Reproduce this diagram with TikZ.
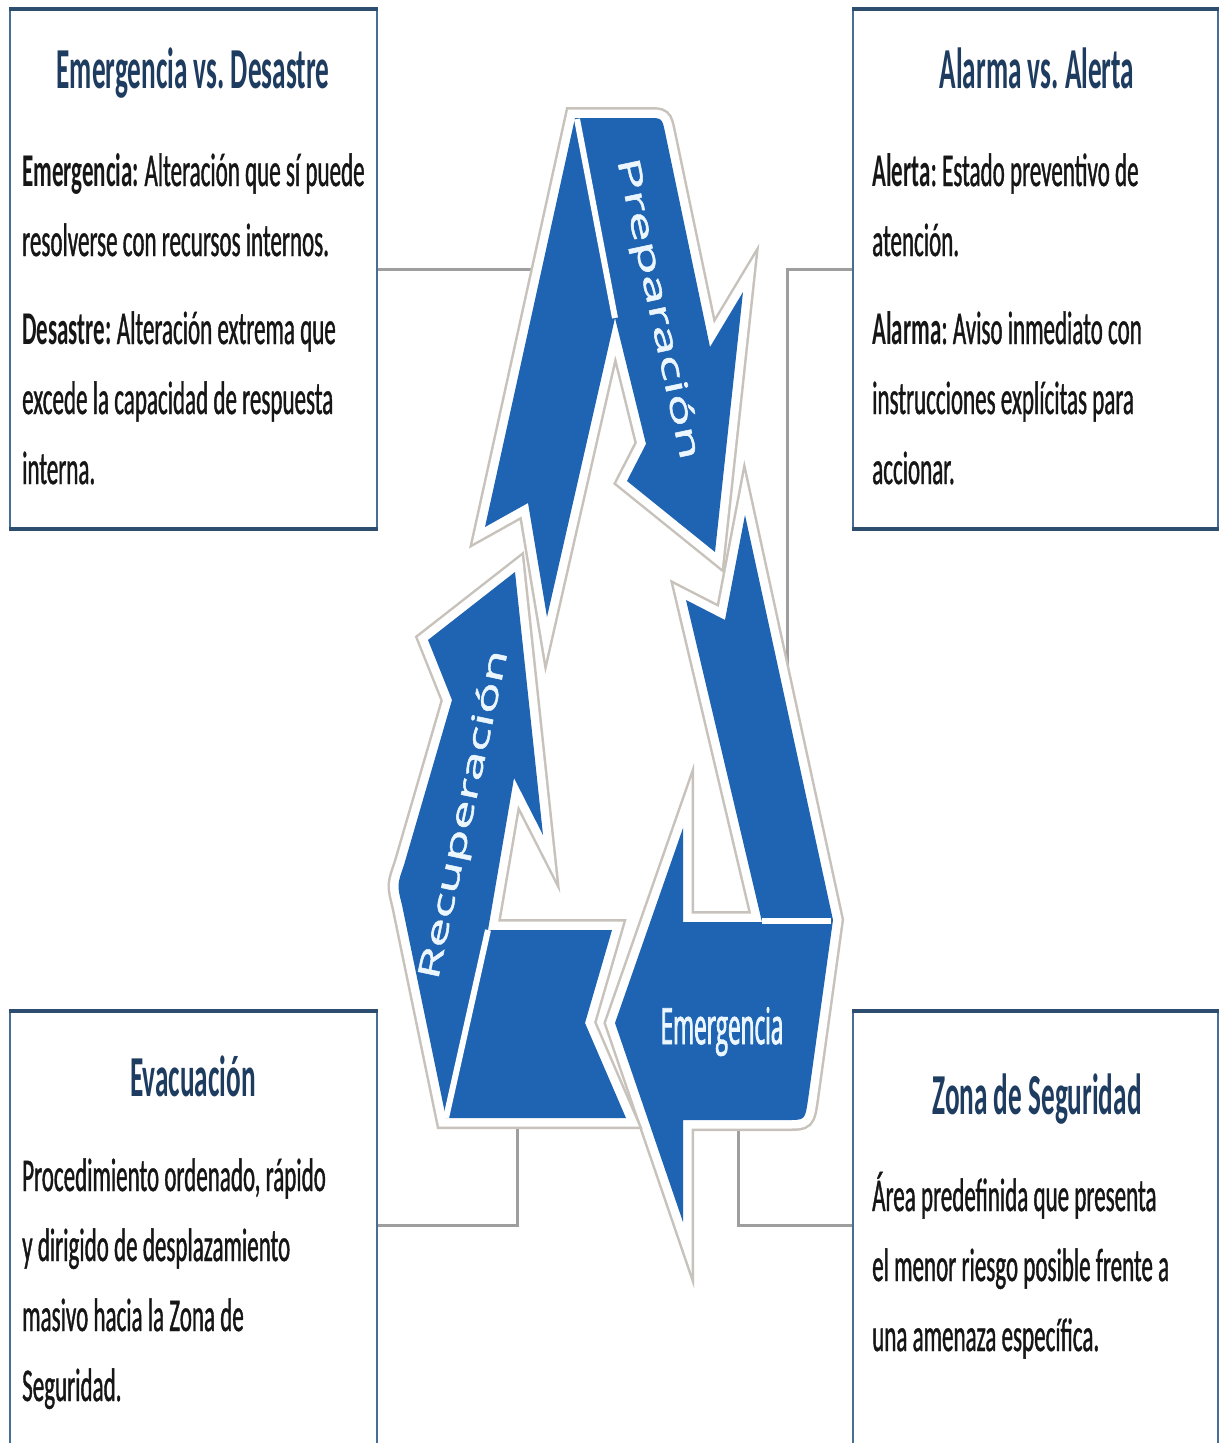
\documentclass[tikz,border=0pt]{standalone}
\usepackage{fontspec}
\setmainfont{Carlito}
\newfontfamily\bodyfont[FakeStretch=0.49, UprightFeatures={FakeBold=0.8}]{Carlito}
\newfontfamily\titlefont[FakeStretch=0.47]{Carlito}
\newfontfamily\labfont[FakeStretch=1.8, FakeBold=1.8]{Open Sans}
\newfontfamily\labfontH[FakeStretch=0.45, FakeBold=1.6]{Open Sans}
\frenchspacing
\definecolor{arrowblue}{RGB}{31,100,178}
\definecolor{ringgray}{RGB}{200,194,188}
\definecolor{conngray}{RGB}{158,158,158}
\definecolor{boxedge}{RGB}{70,110,150}
\definecolor{boxedgedark}{RGB}{45,78,110}
\definecolor{titleblue}{RGB}{30,60,96}
\definecolor{bodytext}{RGB}{22,22,22}
\definecolor{labwhite}{RGB}{236,246,255}
\begin{document}
\begin{tikzpicture}[x=1pt,y=-1pt,
  infobox/.style={draw=boxedge, line width=2.2pt, fill=white, inner sep=0pt},
  boxrule/.style={draw=boxedgedark, line width=4pt},
  connector/.style={draw=conngray, line width=3pt},
  arrowpiece/.style={fill=arrowblue,
     preaction={draw=ringgray, line width=22pt, line join=miter, miter limit=10},
     preaction={draw=white, line width=17pt, line join=miter, miter limit=10}},
  foldline/.style={draw=white, line width=6pt},
  boxtitle/.style={font=\titlefont\bfseries\fontsize{58}{60}\selectfont, text=titleblue, anchor=base, inner sep=0pt},
  boxbody/.style={font=\bodyfont\fontsize{47}{50}\selectfont, text=bodytext, anchor=base west, inner sep=0pt},
  arrowlab/.style={text=labwhite, inner sep=0pt}
]
\fill[white] (0,0) rectangle (1220,1443);
\useasboundingbox (0,0) rectangle (1220,1443);

% boxes
\node[infobox, minimum width=367pt, minimum height=518pt] (b1) at (193.5,269) {};
\node[infobox, minimum width=365pt, minimum height=518pt] (b2) at (1035.5,269) {};
\node[infobox, minimum width=367pt, minimum height=438pt] (b3) at (193.5,1231) {};
\node[infobox, minimum width=365pt, minimum height=438pt] (b4) at (1035.5,1231) {};
\draw[boxrule] (b1.north west) -- (b1.north east);
\draw[boxrule] (b1.south west) -- (b1.south east);
\draw[boxrule] (b2.north west) -- (b2.north east);
\draw[boxrule] (b2.south west) -- (b2.south east);
\draw[boxrule] (b3.north west) -- (b3.north east);
\draw[boxrule] (b4.north west) -- (b4.north east);

% connectors
\coordinate (c1) at (545,269);
\draw[connector] (b1.east) -- (c1);
\coordinate (c2a) at (787,269);
\coordinate (c2b) at (787,705);
\draw[connector] (b2.west) -- (c2a) -- (c2b);
\coordinate (c3a) at (517,1225);
\coordinate (c3b) at (517,1112);
\draw[connector] (b3.east |- c3a) -- (c3a) -- (c3b);
\coordinate (c4a) at (738,1225);
\coordinate (c4b) at (738,1112);
\draw[connector] (b4.west |- c4a) -- (c4a) -- (c4b);

% cycle pieces
\path[arrowpiece] (575,118) -- (648,118) .. controls (662,118) .. (665,132) -- (710,347) -- (743,292) -- (715,552) -- (627,481) -- (646,444) -- (615,318) -- (547,617) -- (528,503) -- (485,527) -- cycle;
\path[arrowpiece] (686,600) -- (725,620) -- (745,515) -- (833,920) -- (808,1100) .. controls (805,1120) .. (788,1120) -- (683,1120) -- (683,1222) -- (615,1023) -- (683,828) -- (683,922) -- (762,922) -- cycle;
\path[arrowpiece] (515,572) -- (543,835) -- (514,778) -- (488,930) -- (612,930) -- (585,1023) -- (626,1118) -- (446,1118) -- (402,905) .. controls (397,885) .. (404,865) -- (452,700) -- (428,640) -- cycle;
\draw[foldline] (577,119) -- (615,318);
\draw[foldline] (488,930) -- (446,1118);
\draw[foldline] (762,921) -- (831,921);

% arrow labels
\node[arrowlab, rotate=-78, font=\labfont\fontsize{30.5}{32}\selectfont] (lprep) at (657,309) {Preparación};
\node[arrowlab, rotate=78, font=\labfont\fontsize{29.5}{32}\selectfont] (lrec) at (465,815) {Recuperación};
\node[arrowlab, anchor=base, font=\labfontH\fontsize{50}{52}\selectfont] (lem) at (722,1044) {Emergencia};

% box texts
\node[boxtitle] (t1) at (193,88) {Emergencia vs. Desastre};
\node[boxbody] (t1a) at (22,186) {\textbf{Emergencia:} Alteración que sí puede};
\node[boxbody] (t1b) at (22,256) {resolverse con recursos internos.};
\node[boxbody] (t1c) at (22,344) {\textbf{Desastre:} Alteración extrema que};
\node[boxbody] (t1d) at (22,414) {excede la capacidad de respuesta};
\node[boxbody] (t1e) at (22,484) {interna.};

\node[boxtitle] (t2) at (1037,88) {Alarma vs. Alerta};
\node[boxbody] (t2a) at (872,186) {\textbf{Alerta}: Estado preventivo de};
\node[boxbody] (t2b) at (872,256) {atención.};
\node[boxbody] (t2c) at (872,344) {\textbf{Alarma}: Aviso inmediato con};
\node[boxbody] (t2d) at (872,414) {instrucciones explícitas para};
\node[boxbody] (t2e) at (872,484) {accionar.};

\node[boxtitle] (t3) at (193,1096) {Evacuación};
\node[boxbody] (t3a) at (22,1191) {Procedimiento ordenado, rápido};
\node[boxbody] (t3b) at (22,1261) {y dirigido de desplazamiento};
\node[boxbody] (t3c) at (22,1331) {masivo hacia la Zona de};
\node[boxbody] (t3d) at (22,1401) {Seguridad.};

\node[boxtitle] (t4) at (1037,1114) {Zona de Seguridad};
\node[boxbody] (t4a) at (872,1211) {Área predefinida que presenta};
\node[boxbody] (t4b) at (872,1281) {el menor riesgo posible frente a};
\node[boxbody] (t4c) at (872,1351) {una amenaza específica.};
\end{tikzpicture}
\end{document}
